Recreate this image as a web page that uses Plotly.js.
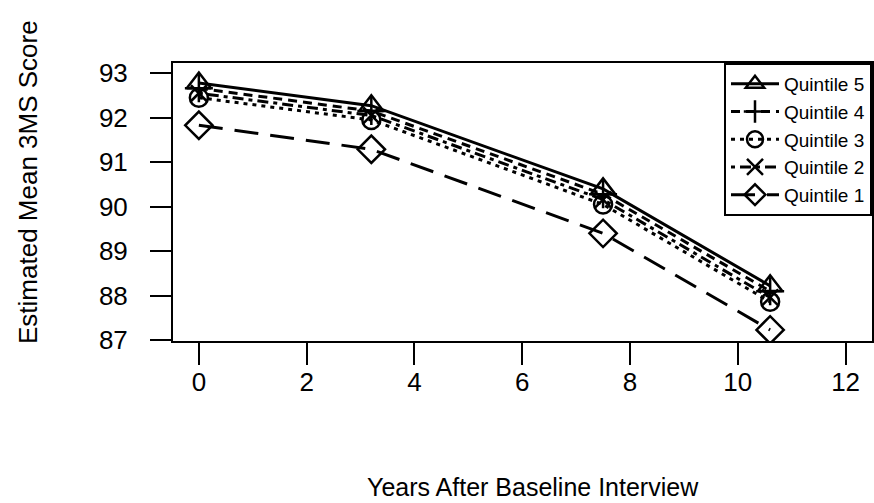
<!DOCTYPE html>
<html>
<head>
<meta charset="utf-8">
<script src="https://cdn.plot.ly/plotly-3.0.1.min.js"></script>
<style>html,body{margin:0;padding:0;background:#fff;}#chart{width:874px;height:503px;}</style>
</head>
<body>
<div id="chart"></div>
<script>
const years = [0, 3.2, 7.5, 10.6];
const seriesNames = ["Quintile 5", "Quintile 4", "Quintile 3", "Quintile 2", "Quintile 1"];
const q5 = [92.78, 92.27, 90.40, 88.22];
const q4 = [92.66, 92.15, 90.28, 88.10];
const q3 = [92.45, 91.95, 90.05, 87.86];
const q2 = [92.55, 92.05, 90.16, 87.96];
const q1 = [91.83, 91.29, 89.40, 87.23];
const xTicks = [0, 2, 4, 6, 8, 10, 12];
const yTicks = [87, 88, 89, 90, 91, 92, 93];

const values = [q5, q4, q3, q2, q1];
const symbols = ["triangle-up-open", "cross-thin-open", "circle-open", "x-thin-open", "diamond-open"];
const dashes = ["solid", "9px,6px", "4px,5px", "4px,5px,11px,5px", "24px,12px"];
const sizes = [21, 20, 18, 16, 21];

const traces = values.map((v, i) => ({
  x: years, y: v, name: seriesNames[i], type: "scatter", mode: "lines+markers",
  line: {color: "#000", width: 3, dash: dashes[i]},
  marker: {symbol: symbols[i], size: sizes[i], color: "#000", line: {color: "#000", width: 2.5}}
}));

const font = "Liberation Sans, Arial, sans-serif";
const layout = {
  width: 874, height: 503,
  margin: {l: 173, r: 2, t: 63, b: 162},
  paper_bgcolor: "#fff", plot_bgcolor: "#fff",
  font: {family: font, color: "#000"},
  showlegend: true,
  legend: {x: 1, y: 1, xanchor: "right", yanchor: "top", bgcolor: "#fff",
           bordercolor: "#000", borderwidth: 2, font: {size: 19, family: font},
           tracegroupgap: 0, itemwidth: 48},
  xaxis: {range: [-0.48, 12.49], tickvals: xTicks, ticktext: xTicks.map(String),
          showgrid: false, zeroline: false, showline: true, mirror: true,
          linecolor: "#000", linewidth: 2, ticks: "outside", ticklen: 22, tickwidth: 2,
          tickcolor: "#000", tickfont: {size: 26, family: font}, ticklabelstandoff: -5},
  yaxis: {range: [86.98, 93.23], tickvals: yTicks, ticktext: yTicks.map(String),
          showgrid: false, zeroline: false, showline: true, mirror: true,
          linecolor: "#000", linewidth: 2, ticks: "outside", ticklen: 21, tickwidth: 2,
          tickcolor: "#000", tickfont: {size: 26, family: font}, ticklabelstandoff: 17},
  annotations: [
    {text: "Years After Baseline Interview", xref: "paper", yref: "paper", x: 0.5, y: 0,
     xanchor: "center", yanchor: "middle", xshift: 10, yshift: -146, showarrow: false,
     font: {size: 25, family: font}},
    {text: "Estimated Mean 3MS Score", xref: "paper", yref: "paper", x: 0, y: 0.5,
     xanchor: "center", yanchor: "middle", xshift: -145, yshift: 20, textangle: -90,
     showarrow: false, font: {size: 26, family: font}}
  ]
};
Plotly.newPlot("chart", traces, layout, {displayModeBar: false, staticPlot: true});
</script>
</body>
</html>
